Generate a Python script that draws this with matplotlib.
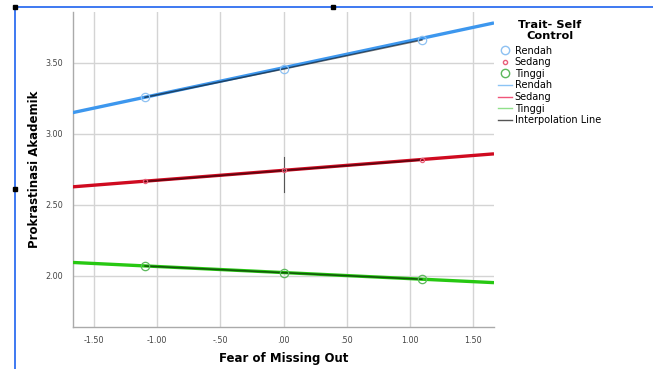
import numpy as np
import matplotlib
matplotlib.use("Agg")
import matplotlib.pyplot as plt
from matplotlib.lines import Line2D

# simple slopes: Fear of Missing Out x Trait- Self Control
groups = ["Rendah", "Sedang", "Tinggi"]
x_points = [-1.095, 0.0, 1.093]
y_points = {
    "Rendah": [3.257, 3.456, 3.660],
    "Sedang": [2.665, 2.742, 2.817],
    "Tinggi": [2.070, 2.023, 1.977],
}
# fitted line end values at the axis limits
x_fit = [-1.668, 1.664]
y_fit = {
    "Rendah": [3.149, 3.780],
    "Sedang": [2.627, 2.859],
    "Tinggi": [2.095, 1.953],
}
# interval bar at x = 0 for Sedang
ci_x = 0.0
ci_y = [2.592, 2.838]

xticks = [-1.5, -1.0, -0.5, 0.0, 0.5, 1.0, 1.5]
xtick_labels = ["-1.50", "-1.00", "-.50", ".00", ".50", "1.00", "1.50"]
yticks = [2.0, 2.5, 3.0, 3.5]
ytick_labels = ["2.00", "2.50", "3.00", "3.50"]

colors = {"Rendah": "#3d97ee", "Sedang": "#cf0a20", "Tinggi": "#27c812"}
marker_colors = {"Rendah": "#8ec1f2", "Sedang": "#e8607a", "Tinggi": "#5cb85c"}
legend_line_colors = {"Rendah": "#8cc4f5", "Sedang": "#f0557a", "Tinggi": "#90e08a"}

plt.rcParams["font.family"] = "DejaVu Sans"

fig = plt.figure(figsize=(6.53, 3.69), dpi=100)
ax = fig.add_axes([0.1113, 0.1146, 0.6452, 0.8537])

for g in groups:
    ax.plot(x_fit, y_fit[g], color=colors[g], lw=2.4, solid_capstyle="butt", zorder=3)
    ax.plot(x_points, y_points[g], color="black", lw=1.2, alpha=0.55, zorder=4)

ax.plot(x_points, y_points["Rendah"], "o", ms=6, mfc="none", mec=marker_colors["Rendah"], mew=0.9, zorder=5)
ax.plot(x_points, y_points["Sedang"], "o", ms=3, mfc="none", mec=marker_colors["Sedang"], mew=0.9, zorder=5)
ax.plot(x_points, y_points["Tinggi"], "o", ms=6, mfc="none", mec=marker_colors["Tinggi"], mew=0.9, zorder=5)
ax.plot([ci_x, ci_x], ci_y, color="#555555", lw=0.8, zorder=4)

ax.set_xlim(-1.668, 1.664)
ax.set_ylim(1.643, 3.859)
ax.set_xticks(xticks)
ax.set_xticklabels(xtick_labels)
ax.set_yticks(yticks)
ax.set_yticklabels(ytick_labels)
ax.tick_params(length=0, labelsize=5.8, colors="#444444", pad=7)
ax.grid(True, color="#d4d4d4", lw=1.0)
ax.set_axisbelow(True)
for s in ["top", "right"]:
    ax.spines[s].set_visible(False)
for s in ["left", "bottom"]:
    ax.spines[s].set_color("#aaaaaa")
    ax.spines[s].set_linewidth(1.0)

ax.set_xlabel("Fear of Missing Out", fontsize=8.5, fontweight="bold", labelpad=5)
ax.set_ylabel("Prokrastinasi Akademik", fontsize=8.5, fontweight="bold", labelpad=3)

# legend
handles = []
handles.append(Line2D([], [], ls="none", marker="o", ms=6, mfc="none", mec=marker_colors["Rendah"]))
handles.append(Line2D([], [], ls="none", marker="o", ms=3, mfc="none", mec=marker_colors["Sedang"]))
handles.append(Line2D([], [], ls="none", marker="o", ms=6, mfc="none", mec=marker_colors["Tinggi"]))
for g in groups:
    handles.append(Line2D([], [], color=legend_line_colors[g], lw=1.0))
handles.append(Line2D([], [], color="#555555", lw=1.0))
labels = groups + groups + ["Interpolation Line"]
leg = fig.legend(handles, labels, loc="upper left", bbox_to_anchor=(0.757, 0.957),
                 frameon=False, fontsize=7, title="Trait- Self\nControl",
                 handlelength=1.4, handletextpad=0.3, labelspacing=0.17,
                 borderaxespad=0)
leg.get_title().set_fontweight("bold")
leg.get_title().set_fontsize(8.2)
leg.get_title().set_multialignment("center")
leg.get_title().set_linespacing(1.2)
leg._legend_box.align = "center"
leg._legend_box.sep = 3

# selection frame around the pasted picture
fig.add_artist(Line2D([15 / 653, 1], [1 - 6.5 / 369] * 2, color="#2f6ef0", lw=1.3))
fig.add_artist(Line2D([15 / 653] * 2, [0, 1 - 6.5 / 369], color="#2f6ef0", lw=1.3))
for hx, hy in [(15, 6.5), (333, 6.5), (15, 189)]:
    fig.add_artist(Line2D([hx / 653], [1 - hy / 369], marker="s", ms=2.5, color="black", ls="none"))

fig.savefig("out.png", dpi=100)
